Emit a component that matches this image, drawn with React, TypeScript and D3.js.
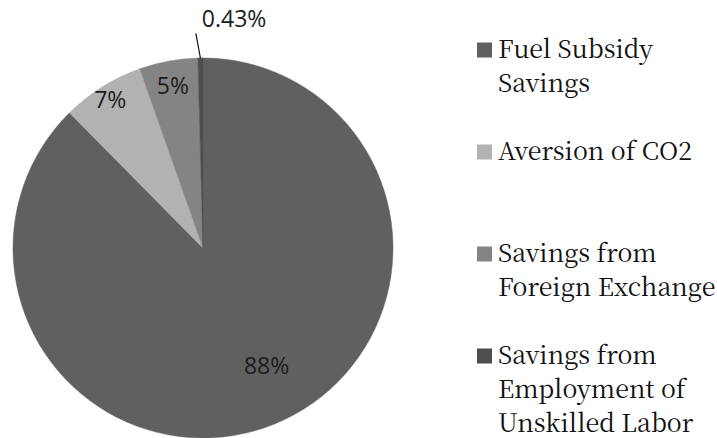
import React from "react";
import * as d3 from "d3";

const categories = [
  "Fuel Subsidy Savings",
  "Aversion of CO2",
  "Savings from Foreign Exchange",
  "Savings from Employment of Unskilled Labor",
];
const values = [87.6, 7.0, 4.97, 0.43];
const valueLabels = ["88%", "7%", "5%", "0.43%"];
const legendLines = [
  ["Fuel Subsidy", "Savings"],
  ["Aversion of CO2"],
  ["Savings from", "Foreign Exchange"],
  ["Savings from", "Employment of", "Unskilled Labor"],
];
const colors = ["#606060", "#b2b2b2", "#848484", "#4e4e4e"];
// label placement (Excel best-fit): radius fraction and angular nudge in degrees
const labelRadiusFrac = [0.705, 0.92, 0.87, 0];
const labelAngleNudge = [-6, 0, 0, 0];

const W = 717;
const H = 438;
const cx = 203;
const cy = 248;
const R = 190;

const legendFont = '"Noto Serif CJK SC"';
const labelFont = '"Open Sans"';

export default function App() {
  const pie = d3
    .pie<number>()
    .sort(null)
    .value((d) => d)
    .startAngle(0)
    .endAngle(2 * Math.PI);
  const arcs = pie(values);
  const arcGen = d3.arc<d3.PieArcDatum<number>>().innerRadius(0).outerRadius(R);

  const polar = (a: number, r: number): [number, number] => [
    Math.sin(a) * r,
    -Math.cos(a) * r,
  ];

  const legendX = 477;
  const legendY0 = 58;
  const entryStep = 102;
  const lineH = 34;

  return (
    <svg
      width={W}
      height={H}
      style={{ position: "absolute", left: 0, top: 0, background: "#fff" }}
    >
      <g transform={`translate(${cx},${cy})`}>
        {arcs.map((a, i) => (
          <path
            key={i}
            d={arcGen(a) || ""}
            fill={colors[i]}
            stroke={colors[i]}
            strokeWidth={0.5}
          />
        ))}
        {arcs.map((a, i) => {
          const mid = (a.startAngle + a.endAngle) / 2;
          if (labelRadiusFrac[i] > 0) {
            const ang = mid + (labelAngleNudge[i] * Math.PI) / 180;
            const [x, y] = polar(ang, R * labelRadiusFrac[i]);
            return (
              <text
                key={"l" + i}
                x={x}
                y={y}
                dy="0.36em"
                textAnchor="middle"
                style={{ fontFamily: labelFont, fontSize: 23 }}
                fill="#1c1c1c"
              >
                {valueLabels[i]}
              </text>
            );
          }
          const [x0, y0] = polar(mid, R);
          const [x1, y1] = polar(mid - 0.02, R * 1.13);
          return (
            <g key={"l" + i}>
              <line x1={x0} y1={y0} x2={x1} y2={y1} stroke="#111" strokeWidth={1.2} />
              <text
                x={x1 + 6}
                y={y1 - 6}
                textAnchor="start"
                style={{ fontFamily: labelFont, fontSize: 23 }}
                fill="#1c1c1c"
              >
                {valueLabels[i]}
              </text>
            </g>
          );
        })}
      </g>
      <g>
        {categories.map((c, i) => {
          const by = legendY0 + i * entryStep;
          return (
            <g key={c}>
              <rect x={legendX} y={by - 15.5} width={15} height={15} fill={colors[i]} />
              {legendLines[i].map((ln, j) => (
                <text
                  key={j}
                  x={legendX + 21}
                  y={by + j * lineH}
                  style={{ fontFamily: legendFont, fontSize: 25 }}
                  fill="#111"
                >
                  {ln}
                </text>
              ))}
            </g>
          );
        })}
      </g>
    </svg>
  );
}
